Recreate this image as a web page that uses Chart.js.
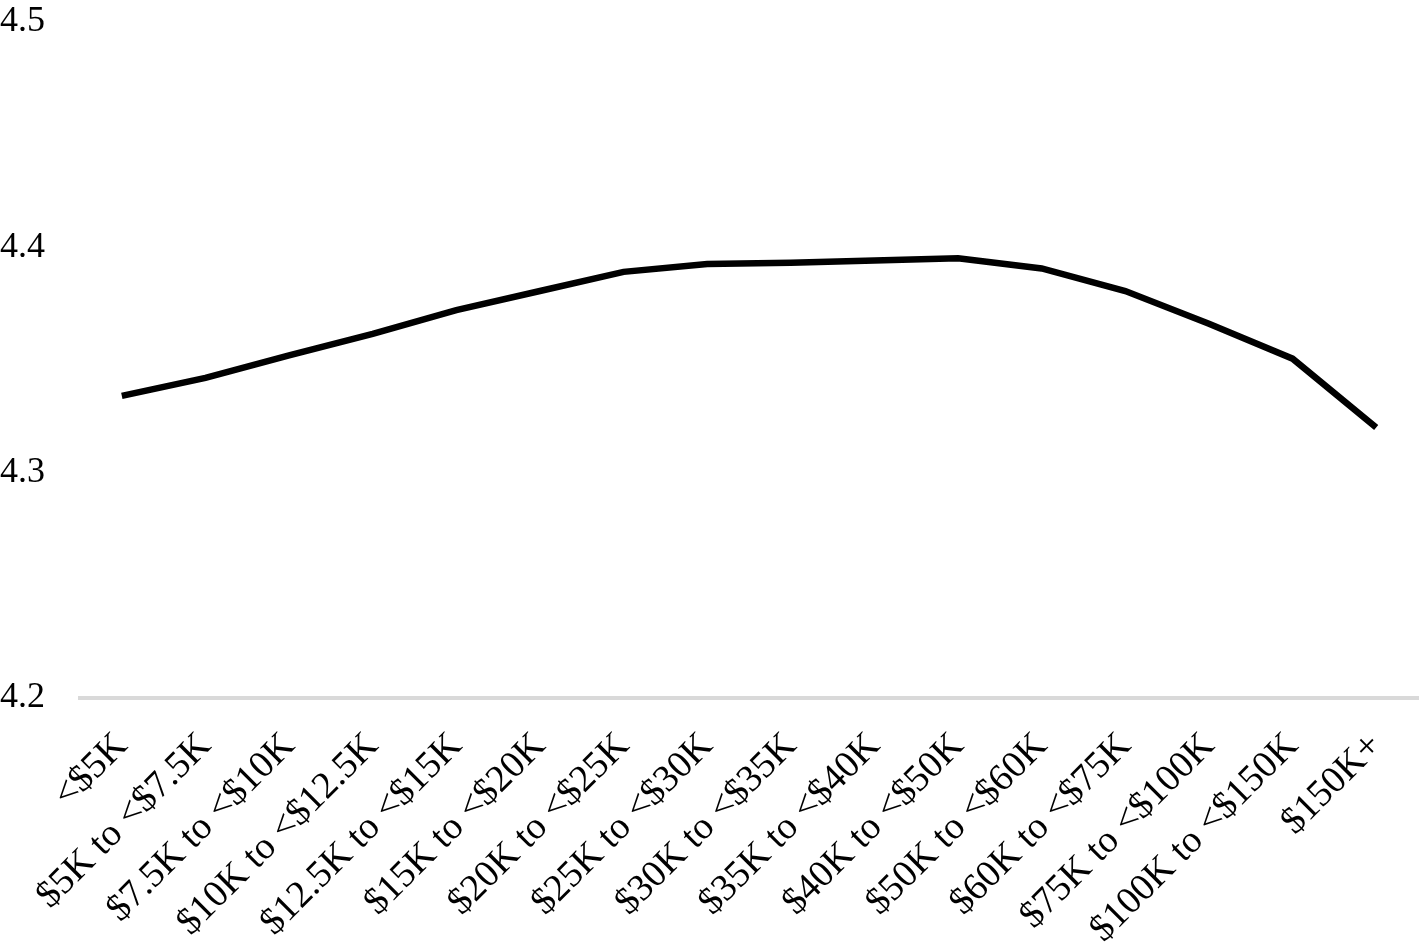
<!DOCTYPE html>
<html>
<head>
<meta charset="utf-8">
<script src="https://cdn.jsdelivr.net/npm/chart.js@4"></script>
<style>
  html, body { margin: 0; padding: 0; background: #fff; }
  #wrap { width: 1421px; height: 942px; position: relative; }
</style>
</head>
<body>
<div id="wrap"><canvas id="incomeChart"></canvas></div>
<script>
// Income brackets along the x axis
var categories = ['<$5K', '$5K to <$7.5K', '$7.5K to <$10K', '$10K to <$12.5K', '$12.5K to <$15K',
    '$15K to <$20K', '$20K to <$25K', '$25K to <$30K', '$30K to <$35K', '$35K to <$40K',
    '$40K to <$50K', '$50K to <$60K', '$60K to <$75K', '$75K to <$100K', '$100K to <$150K', '$150K+'];

// Values
var values = [4.334, 4.342, 4.352, 4.3615, 4.372, 4.3805, 4.389, 4.3925, 4.393, 4.394,
    4.395, 4.3905, 4.3805, 4.366, 4.3505, 4.320];

// Y axis ticks
var yTicks = [4.2, 4.3, 4.4, 4.5];

var yFont = { family: '"Liberation Serif", "Times New Roman", serif', size: 36 };
var xFont = { family: '"Liberation Serif", "Times New Roman", serif', size: 38 };

// Build the chart
var ctx = document.getElementById('incomeChart').getContext('2d');
new Chart(ctx, {
    type: 'line',
    data: {
        labels: categories,
        datasets: [{
            data: values,
            borderColor: '#000',
            borderWidth: 6.5,
            pointRadius: 0,
            tension: 0,
            fill: false
        }]
    },
    options: {
        responsive: true,
        maintainAspectRatio: false,
        animation: false,
        layout: { padding: { top: 20, right: 3, left: 0, bottom: 0 } },
        plugins: {
            legend: { display: false },
            tooltip: { enabled: false }
        },
        scales: {
            x: {
                offset: true,
                grid: { display: false, drawTicks: false },
                border: { display: true, color: '#d9d9d9', width: 4 },
                ticks: {
                    color: '#000',
                    font: xFont,
                    minRotation: 45,
                    maxRotation: 45,
                    autoSkip: false,
                    padding: 26
                },
                afterFit: function(scale) {
                    scale.height = 244;
                    scale.paddingLeft = 0;
                    scale.paddingRight = 0;
                }
            },
            y: {
                min: 4.2,
                max: 4.5,
                afterBuildTicks: function(scale) {
                    scale.ticks = yTicks.map(function(v) { return { value: v }; });
                },
                grid: { display: false, drawTicks: false },
                border: { display: false },
                ticks: {
                    color: '#000',
                    font: yFont,
                    crossAlign: 'far',
                    padding: 0,
                    callback: function(v) { return v.toFixed(1); }
                },
                afterFit: function(scale) { scale.width = 80; }
            }
        }
    }
});
</script>
</body>
</html>
